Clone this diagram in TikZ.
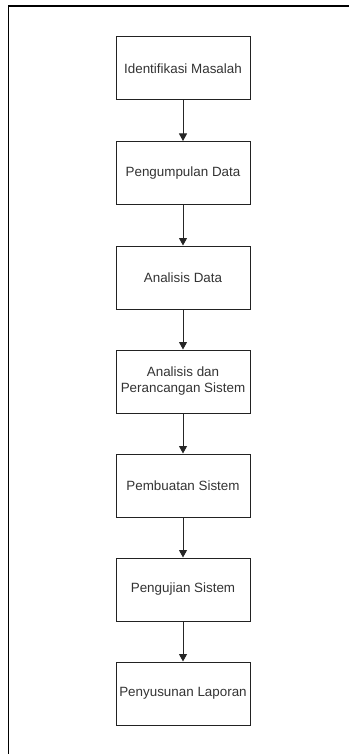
\documentclass[tikz,border=0pt]{standalone}
\usepackage{fontspec}
\setmainfont{Liberation Sans}
\usetikzlibrary{arrows.meta}
\definecolor{txt}{HTML}{333333}
\definecolor{edge}{HTML}{222222}
\begin{document}
\begin{tikzpicture}[x=1pt,y=-1pt,
  stepbox/.style={draw=edge,line width=1pt,minimum width=134pt,minimum height=63pt,inner sep=0pt,
    align=center,text=txt,font=\fontsize{13.4pt}{16pt}\selectfont},
  flow/.style={draw=black!85,line width=1pt,-{Triangle[width=8pt,length=7.5pt]}}]
\useasboundingbox (0,0) rectangle (349,754);
\draw[line width=1.3pt] (8.5,754) -- (8.5,6) -- (349,6);
\node[stepbox] (a) at (183,68.5) {Identifikasi Masalah};
\node[stepbox] (b) at (183,173) {Pengumpulan Data};
\node[stepbox] (c) at (183,277.5) {Analisis Data};
\node[stepbox] (d) at (183,381.5) {Analisis dan\\Perancangan Sistem};
\node[stepbox] (e) at (183,485.5) {Pembuatan Sistem};
\node[stepbox] (f) at (183,589.5) {Pengujian Sistem};
\node[stepbox] (g) at (183,693.5) {Penyusunan Laporan};
\draw[flow] (a) -- (b);
\draw[flow] (b) -- (c);
\draw[flow] (c) -- (d);
\draw[flow] (d) -- (e);
\draw[flow] (e) -- (f);
\draw[flow] (f) -- (g);
\end{tikzpicture}
\end{document}
